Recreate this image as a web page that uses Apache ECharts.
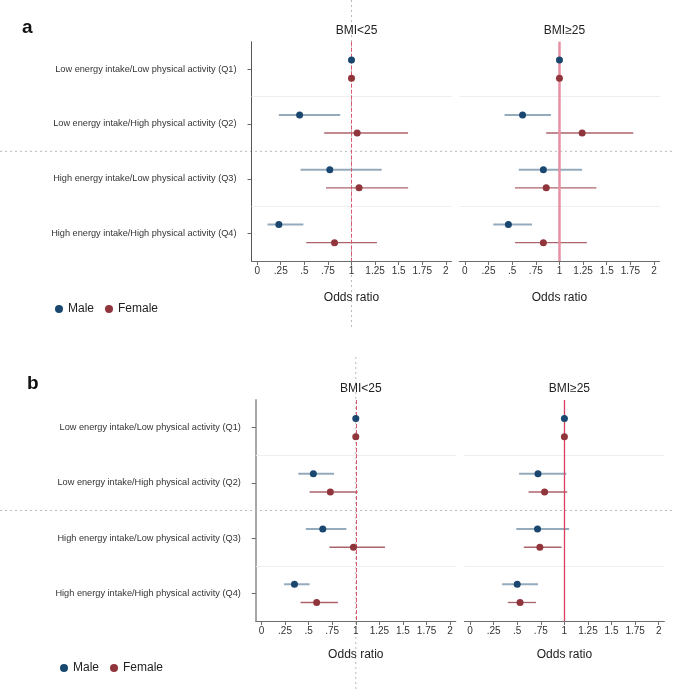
<!DOCTYPE html>
<html>
<head>
<meta charset="utf-8">
<script src="https://cdn.jsdelivr.net/npm/echarts@6/dist/echarts.min.js"></script>
<style>html,body{margin:0;padding:0;background:#fff}#c{width:673px;height:692px}</style>
</head>
<body>
<div id="c"></div>
<script>
var categories = [
  'Low energy intake/Low physical activity (Q1)',
  'Low energy intake/High physical activity (Q2)',
  'High energy intake/Low physical activity (Q3)',
  'High energy intake/High physical activity (Q4)'
];
var xTicks = [0, 0.25, 0.5, 0.75, 1, 1.25, 1.5, 1.75, 2];
var xTickLabels = ['0', '.25', '.5', '.75', '1', '1.25', '1.5', '1.75', '2'];
var panelTitles = ['BMI<25', 'BMI\u226525'];

// Panel a, BMI<25
var aLowMaleOR = [1, 0.45, 0.77, 0.23];
var aLowMaleLo = [1, 0.23, 0.46, 0.11];
var aLowMaleHi = [1, 0.88, 1.32, 0.49];
var aLowFemaleOR = [1, 1.06, 1.08, 0.82];
var aLowFemaleLo = [1, 0.71, 0.73, 0.52];
var aLowFemaleHi = [1, 1.60, 1.60, 1.27];
// Panel a, BMI>=25
var aHighMaleOR = [1, 0.61, 0.83, 0.46];
var aHighMaleLo = [1, 0.42, 0.57, 0.30];
var aHighMaleHi = [1, 0.91, 1.24, 0.71];
var aHighFemaleOR = [1, 1.24, 0.86, 0.83];
var aHighFemaleLo = [1, 0.86, 0.53, 0.53];
var aHighFemaleHi = [1, 1.78, 1.39, 1.29];
// Panel b, BMI<25
var bLowMaleOR = [1, 0.55, 0.65, 0.35];
var bLowMaleLo = [1, 0.39, 0.47, 0.24];
var bLowMaleHi = [1, 0.77, 0.90, 0.51];
var bLowFemaleOR = [1, 0.73, 0.975, 0.585];
var bLowFemaleLo = [1, 0.51, 0.72, 0.415];
var bLowFemaleHi = [1, 1.02, 1.31, 0.81];
// Panel b, BMI>=25
var bHighMaleOR = [1, 0.72, 0.715, 0.50];
var bHighMaleLo = [1, 0.52, 0.49, 0.34];
var bHighMaleHi = [1, 1.02, 1.05, 0.72];
var bHighFemaleOR = [1, 0.79, 0.74, 0.53];
var bHighFemaleLo = [1, 0.62, 0.57, 0.40];
var bHighFemaleHi = [1, 1.03, 0.97, 0.70];

var MALE = '#1a476f', FEMALE = '#90353b';
var FONT = '"Liberation Sans", Arial, sans-serif';
var OFF = 0.165;

var chart = echarts.init(document.getElementById('c'), null, {renderer: 'canvas'});

var grids = [
  {left: 251.5, top: 41.7, width: 200, height: 219.3},
  {left: 459.2, top: 41.7, width: 200.5, height: 219.3},
  {left: 255.8, top: 400, width: 200, height: 221},
  {left: 464.4, top: 400, width: 200, height: 221}
];

function tickLabel(v) {
  for (var i = 0; i < xTicks.length; i++) if (Math.abs(xTicks[i] - v) < 1e-6) return xTickLabels[i];
  return '';
}

var xAxes = [], yAxes = [], series = [];
grids.forEach(function (g, gi) {
  var isLeft = gi % 2 === 0;
  xAxes.push({
    type: 'value', gridIndex: gi, min: -0.06, max: 2.06,
    axisLine: {show: true, lineStyle: {color: '#6e6e6e', width: 1}},
    axisTick: {show: true, customValues: xTicks, length: 4, lineStyle: {color: '#6e6e6e'}},
    axisLabel: {customValues: xTicks, formatter: tickLabel, fontSize: 10, color: '#333', margin: 5, fontFamily: FONT},
    splitLine: {show: false},
    name: 'Odds ratio', nameLocation: 'middle', nameGap: gi < 2 ? 31 : 28,
    nameTextStyle: {fontSize: 12, color: '#222', fontFamily: FONT}
  });
  yAxes.push({
    type: 'value', gridIndex: gi, min: 0.5, max: 4.5, inverse: true,
    axisLine: {show: isLeft, onZero: false, lineStyle: {color: gi < 2 ? '#555' : '#a8a8a8', width: gi < 2 ? 1 : 2}},
    axisTick: {show: isLeft, customValues: [1, 2, 3, 4], length: 4, lineStyle: {color: '#666'}},
    axisLabel: {show: isLeft, customValues: [1, 2, 3, 4], formatter: function (v) { return categories[Math.round(v) - 1]; },
      fontSize: 9.2, color: '#333', margin: 15, fontFamily: FONT},
    splitLine: {show: false}
  });
});

var panels = [
  {m: [aLowMaleOR, aLowMaleLo, aLowMaleHi], f: [aLowFemaleOR, aLowFemaleLo, aLowFemaleHi]},
  {m: [aHighMaleOR, aHighMaleLo, aHighMaleHi], f: [aHighFemaleOR, aHighFemaleLo, aHighFemaleHi]},
  {m: [bLowMaleOR, bLowMaleLo, bLowMaleHi], f: [bLowFemaleOR, bLowFemaleLo, bLowFemaleHi]},
  {m: [bHighMaleOR, bHighMaleLo, bHighMaleHi], f: [bHighFemaleOR, bHighFemaleLo, bHighFemaleHi]}
];

var refLines = [
  {type: 'dashed', color: '#d8596f', width: 1},
  {type: 'solid', color: '#e690a3', width: 2.5},
  {type: 'dashed', color: '#d8596f', width: 1},
  {type: 'solid', color: '#d8405e', width: 1.3}
];

function ciRenderer(color, width) {
  return function (params, api) {
    var y = api.value(2);
    var p1 = api.coord([api.value(0), y]);
    var p2 = api.coord([api.value(1), y]);
    return {type: 'line', shape: {x1: p1[0], y1: p1[1], x2: p2[0], y2: p2[1]},
      style: {stroke: color, lineWidth: width}};
  };
}

panels.forEach(function (p, gi) {
  var mCI = categories.map(function (c, i) { return [p.m[1][i], p.m[2][i], i + 1 - OFF]; });
  var fCI = categories.map(function (c, i) { return [p.f[1][i], p.f[2][i], i + 1 + OFF]; });
  var mPts = categories.map(function (c, i) { return [p.m[0][i], i + 1 - OFF]; });
  var fPts = categories.map(function (c, i) { return [p.f[0][i], i + 1 + OFF]; });
  series.push({
    type: 'scatter', xAxisIndex: gi, yAxisIndex: gi, data: [], silent: true,
    markLine: {silent: true, symbol: 'none', label: {show: false}, animation: false,
      data: [
        {yAxis: 1.5, lineStyle: {color: '#eceef1', width: 1, type: 'solid'}},
        {yAxis: 3.5, lineStyle: {color: '#eceef1', width: 1, type: 'solid'}},
        {xAxis: 1, lineStyle: {color: refLines[gi].color, width: refLines[gi].width, type: refLines[gi].type}}
      ]}
  });
  series.push({type: 'custom', name: 'Male', xAxisIndex: gi, yAxisIndex: gi, data: mCI, silent: true,
    encode: {x: [0, 1], y: 2}, renderItem: ciRenderer('rgba(60,100,135,0.55)', 2), itemStyle: {color: MALE}, z: 3});
  series.push({type: 'custom', name: 'Female', xAxisIndex: gi, yAxisIndex: gi, data: fCI, silent: true,
    encode: {x: [0, 1], y: 2}, renderItem: ciRenderer('rgba(150,60,70,0.8)', 1.3), itemStyle: {color: FEMALE}, z: 3});
  series.push({type: 'scatter', name: 'Male', xAxisIndex: gi, yAxisIndex: gi, data: mPts,
    symbol: 'circle', symbolSize: 7, itemStyle: {color: MALE, opacity: 1}, z: 5});
  series.push({type: 'scatter', name: 'Female', xAxisIndex: gi, yAxisIndex: gi, data: fPts,
    symbol: 'circle', symbolSize: 7, itemStyle: {color: FEMALE, opacity: 1}, z: 5});
});

var titles = [
  {text: 'a', left: 17, top: 13, textStyle: {fontSize: 19, fontWeight: 'bold', color: '#111', fontFamily: FONT}},
  {text: 'b', left: 22, top: 369, textStyle: {fontSize: 19, fontWeight: 'bold', color: '#111', fontFamily: FONT}}
];
grids.forEach(function (g, gi) {
  titles.push({text: panelTitles[gi % 2], left: g.left + g.width / 2, textAlign: 'center',
    top: gi < 2 ? 20 : 378, textStyle: {fontSize: 12, fontWeight: 'normal', color: '#222', fontFamily: FONT}});
});

var option = {
  animation: false,
  backgroundColor: '#fff',
  title: titles,
  grid: grids,
  xAxis: xAxes,
  yAxis: yAxes,
  legend: [
    {data: [{name: 'Male', icon: 'circle'}, {name: 'Female', icon: 'circle'}], left: 50, top: 298,
      itemWidth: 8, itemHeight: 8, itemGap: 11, selectedMode: false,
      textStyle: {fontSize: 12, color: '#222', fontFamily: FONT}},
    {data: [{name: 'Male', icon: 'circle'}, {name: 'Female', icon: 'circle'}], left: 55, top: 657,
      itemWidth: 8, itemHeight: 8, itemGap: 11, selectedMode: false,
      textStyle: {fontSize: 12, color: '#222', fontFamily: FONT}}
  ],
  series: series
};
chart.setOption(option);

var pa = chart.convertToPixel({gridIndex: 0}, [1, 2.5]);
var pb = chart.convertToPixel({gridIndex: 2}, [1, 2.5]);
var dot = {stroke: '#bbbbbb', lineWidth: 1, lineDash: [2, 3]};
chart.setOption({
  graphic: [
    {type: 'line', silent: true, z: 0, shape: {x1: pa[0], y1: 0, x2: pa[0], y2: 330}, style: dot},
    {type: 'line', silent: true, z: 0, shape: {x1: 0, y1: pa[1], x2: 673, y2: pa[1]}, style: dot},
    {type: 'line', silent: true, z: 0, shape: {x1: pb[0], y1: 357, x2: pb[0], y2: 692}, style: dot},
    {type: 'line', silent: true, z: 0, shape: {x1: 0, y1: pb[1], x2: 673, y2: pb[1]}, style: dot}
  ]
});
</script>
</body>
</html>
